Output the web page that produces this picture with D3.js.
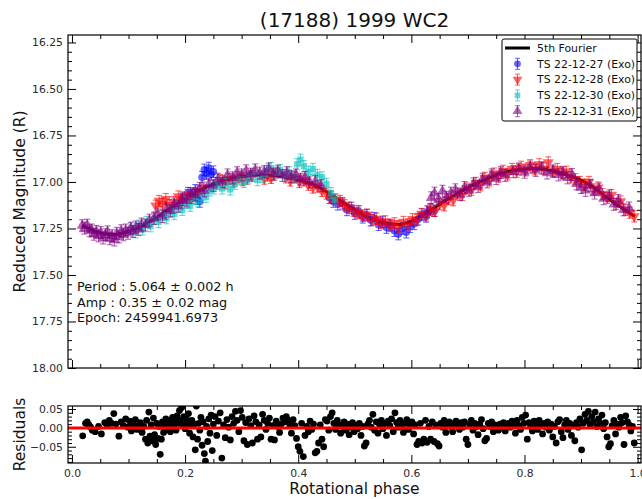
<!DOCTYPE html>
<html>
<head>
<meta charset="utf-8">
<script src="https://cdn.jsdelivr.net/npm/d3@7"></script>
<style>
  body { margin: 0; background: #fff; }
  svg { display: block; font-family: "DejaVu Sans", sans-serif; }
</style>
</head>
<body>
<svg id="chart" width="642" height="499"></svg>
<script>
// Lightcurve of (17188) 1999 WC2: folded photometry, 5th order Fourier fit, residuals.

const title = "(17188) 1999 WC2";
const seriesLabels = ["TS 22-12-27 (Exo)", "TS 22-12-28 (Exo)", "TS 22-12-30 (Exo)", "TS 22-12-31 (Exo)"];
const fitLabel = "5th Fourier";
const fitInfo = ["Period : 5.064 \u00b1 0.002 h", "Amp : 0.35 \u00b1 0.02 mag", "Epoch: 2459941.6973"];

const magTicks = [16.25, 16.5, 16.75, 17.0, 17.25, 17.5, 17.75, 18.0];
const residTicks = [-0.05, 0, 0.05];
const phaseTicks = [0, 0.2, 0.4, 0.6, 0.8, 1.0];

// error bar half-length per night (mag)
const errBars = [0.031, 0.030, 0.030, 0.032];

// fitted curve, [phase, mag]
const fitCurve = [
  [0.018,17.234],[0.03,17.25],[0.04,17.265],[0.05,17.273],[0.06,17.28],[0.07,17.282],[0.08,17.281],
  [0.09,17.275],[0.10,17.266],[0.11,17.255],[0.12,17.243],[0.13,17.227],[0.14,17.21],[0.16,17.17],
  [0.18,17.13],[0.20,17.09],[0.22,17.055],[0.24,17.025],[0.26,17.0],[0.28,16.982],[0.30,16.97],
  [0.33,16.963],[0.36,16.965],[0.39,16.982],[0.42,17.007],[0.44,17.034],[0.46,17.072],[0.48,17.112],
  [0.50,17.15],[0.52,17.185],[0.54,17.21],[0.56,17.225],[0.58,17.228],[0.60,17.21],[0.62,17.178],
  [0.64,17.14],[0.66,17.10],[0.68,17.065],[0.70,17.03],[0.72,17.002],[0.74,16.975],[0.76,16.952],
  [0.78,16.938],[0.80,16.93],[0.82,16.927],[0.84,16.935],[0.86,16.948],[0.88,16.968],[0.90,16.99],
  [0.92,17.025],[0.94,17.07],[0.96,17.115],[0.98,17.155],[0.995,17.185]
];

// observations, [phase, mag]
const ts221227 = [
  [0.195,17.085],[0.205,17.060],[0.212,17.070],[0.218,17.045],[0.222,17.090],[0.226,17.105],
  [0.230,16.975],[0.234,16.935],[0.238,16.955],[0.242,16.925],[0.246,16.960],[0.250,16.945],
  [0.455,17.085],[0.462,17.105],[0.470,17.120],[0.478,17.115],[0.486,17.150],[0.494,17.140],
  [0.500,17.170],[0.507,17.158],[0.514,17.190],[0.521,17.178],[0.528,17.205],[0.535,17.195],
  [0.542,17.230],[0.549,17.215],[0.556,17.245],[0.563,17.232],[0.570,17.262],[0.577,17.280],
  [0.584,17.250],[0.591,17.270],[0.598,17.240],[0.605,17.225],[0.612,17.200],[0.619,17.175],
  [0.626,17.185],[0.633,17.150],[0.640,17.155]
];
const ts221228 = [
  [0.148,17.128],[0.154,17.102],[0.160,17.118],[0.166,17.092],[0.172,17.125],[0.180,17.108],
  [0.188,17.078],[0.196,17.098],[0.204,17.070],[0.212,17.085],[0.222,17.050],[0.232,17.030],
  [0.262,16.990],[0.270,17.005],[0.278,16.985],[0.286,16.998],[0.294,16.975],[0.302,16.990],
  [0.310,16.982],[0.318,16.968],[0.340,16.982],[0.346,16.965],[0.352,16.978],[0.358,16.960],
  [0.378,16.975],[0.386,16.992],[0.394,16.975],[0.402,17.000],[0.410,16.992],[0.418,17.015],
  [0.426,17.030],[0.434,17.025],[0.442,17.048],[0.450,17.062],[0.458,17.080],[0.466,17.095],
  [0.474,17.102],[0.482,17.125],[0.490,17.138],[0.498,17.155],[0.506,17.165],[0.514,17.182],
  [0.522,17.176],[0.530,17.205],[0.538,17.198],[0.546,17.222],[0.554,17.212],[0.562,17.235],
  [0.570,17.222],[0.578,17.240],[0.586,17.215],[0.594,17.228],[0.602,17.200],[0.610,17.205],
  [0.618,17.172],[0.626,17.180],[0.634,17.145],[0.642,17.155],[0.650,17.118],[0.658,17.125],
  [0.666,17.092],[0.674,17.098],[0.682,17.062],[0.690,17.070],[0.698,17.035],[0.706,17.042],
  [0.714,17.005],[0.722,17.018],[0.730,16.978],[0.738,16.992],[0.746,16.955],[0.754,16.972],
  [0.762,16.940],[0.770,16.960],[0.778,16.930],[0.786,16.945],[0.794,16.918],[0.802,16.938],
  [0.810,16.910],[0.818,16.932],[0.826,16.905],[0.834,16.928],[0.842,16.895],[0.850,16.945],
  [0.858,16.930],[0.866,16.955],[0.874,16.945],[0.882,16.975],[0.890,16.985],[0.898,17.000],
  [0.906,17.015],[0.914,17.000],[0.922,17.040],[0.930,17.030],[0.938,17.065],[0.946,17.085],
  [0.954,17.070],[0.962,17.118],[0.970,17.105],[0.978,17.150],[0.986,17.165],[0.994,17.185]
];
const ts221230 = [
  [0.105,17.250],[0.112,17.270],[0.118,17.235],[0.125,17.255],[0.132,17.215],[0.139,17.238],
  [0.146,17.198],[0.153,17.215],[0.160,17.178],[0.167,17.195],[0.174,17.160],[0.181,17.172],
  [0.188,17.135],[0.195,17.150],[0.202,17.112],[0.209,17.128],[0.216,17.090],[0.223,17.105],
  [0.230,17.068],[0.237,17.080],[0.244,17.045],[0.251,17.035],[0.258,17.010],[0.265,17.035],
  [0.272,17.012],[0.280,17.040],[0.288,17.010],[0.296,16.985],[0.304,17.000],[0.312,16.975],
  [0.320,16.960],[0.328,16.990],[0.336,16.972],[0.344,16.940],[0.352,16.925],[0.360,16.950],
  [0.368,16.935],[0.376,16.965],[0.384,16.948],[0.392,16.975],[0.398,16.905],[0.404,16.880],
  [0.410,16.915],[0.418,16.945],[0.426,16.930],[0.434,16.962],[0.442,16.975],[0.450,17.010],
  [0.458,17.060],[0.465,17.095]
];
const ts221231 = [
  [0.018,17.235],[0.022,17.248],[0.027,17.232],[0.031,17.262],[0.035,17.258],[0.039,17.281],
  [0.043,17.266],[0.047,17.290],[0.051,17.272],[0.055,17.301],[0.059,17.284],[0.063,17.268],
  [0.067,17.305],[0.071,17.289],[0.075,17.312],[0.079,17.276],[0.083,17.295],[0.087,17.262],
  [0.091,17.284],[0.095,17.258],[0.099,17.276],[0.104,17.248],[0.108,17.266],[0.113,17.242],
  [0.118,17.255],[0.123,17.226],[0.130,17.232],[0.137,17.205],[0.145,17.196],[0.152,17.172],
  [0.160,17.186],[0.167,17.146],[0.174,17.155],[0.181,17.118],[0.188,17.130],[0.195,17.095],
  [0.203,17.102],[0.210,17.062],[0.218,17.070],[0.226,17.035],[0.234,17.048],[0.242,17.012],
  [0.250,17.020],[0.258,16.985],[0.266,16.998],[0.275,16.962],[0.284,16.978],[0.292,16.950],
  [0.300,16.962],[0.308,16.940],[0.316,16.958],[0.324,16.935],[0.332,16.952],[0.340,16.945],
  [0.348,16.930],[0.356,16.958],[0.364,16.942],[0.372,16.965],[0.380,16.950],[0.388,16.972],
  [0.396,16.962],[0.404,16.985],[0.412,16.975],[0.420,17.000],[0.430,16.998],[0.440,17.020],
  [0.628,17.160],[0.635,17.085],[0.641,17.060],[0.648,17.095],[0.655,17.050],[0.662,17.082],
  [0.670,17.060],[0.678,17.042],[0.686,17.068],[0.694,17.030],[0.702,17.045],[0.710,17.010],
  [0.718,17.025],[0.726,16.985],[0.734,17.000],[0.742,16.962],[0.750,16.982],[0.758,16.950],
  [0.766,16.965],[0.780,16.945],[0.790,16.930],[0.800,16.948],[0.810,16.920],[0.820,16.938],
  [0.830,16.925],[0.840,16.952],[0.850,16.940],[0.860,16.962],[0.868,16.950],[0.876,16.978],
  [0.884,16.960],[0.892,17.010],[0.900,17.030],[0.908,17.045],[0.916,17.020],[0.924,17.060],
  [0.932,17.038],[0.940,17.090],[0.950,17.075],[0.958,17.120],[0.966,17.100],[0.975,17.150],
  [0.985,17.140]
];

// residuals of all nights, [phase, O-C]
const residuals = [
  [0.019,-0.021],[0.024,0.012],[0.027,0.016],[0.030,0.008],[0.033,0.002],[0.036,-0.006],[0.041,-0.010],
  [0.047,0.004],[0.052,-0.016],[0.058,0.014],[0.062,0.008],[0.066,0.020],[0.070,0.012],[0.074,0.038],
  [0.078,0.010],[0.083,-0.022],[0.087,0.016],[0.091,0.006],[0.095,0.024],[0.099,0.002],[0.102,0.018],
  [0.105,-0.008],[0.108,0.010],[0.112,0.022],[0.115,-0.004],[0.118,0.006],[0.121,0.014],[0.124,-0.012],
  [0.127,0.004],[0.130,-0.030],[0.132,0.020],[0.134,-0.040],[0.136,0.042],[0.138,-0.022],[0.140,0.008],
  [0.142,-0.034],[0.144,0.026],[0.146,-0.018],[0.148,-0.044],[0.150,0.012],[0.152,-0.028],[0.154,0.004],
  [0.156,-0.070],[0.158,-0.030],[0.160,0.016],[0.162,-0.012],[0.164,0.006],[0.166,0.024],[0.168,-0.004],
  [0.170,0.010],[0.172,0.020],[0.174,-0.010],[0.176,0.014],[0.178,0.028],[0.180,0.006],[0.182,0.018],
  [0.184,-0.006],[0.186,0.032],[0.188,0.012],[0.190,0.046],[0.192,0.020],[0.194,0.054],[0.196,0.008],
  [0.198,0.030],[0.200,-0.002],[0.202,0.024],[0.204,0.014],[0.206,0.038],[0.208,-0.014],[0.210,0.006],
  [0.212,0.020],[0.214,-0.024],[0.216,0.010],[0.218,-0.058],[0.220,0.058],[0.222,-0.030],[0.224,0.012],
  [0.226,-0.006],[0.228,0.028],[0.230,-0.046],[0.232,0.016],[0.234,-0.068],[0.236,-0.088],[0.238,0.004],
  [0.240,-0.036],[0.242,0.024],[0.244,-0.014],[0.246,0.034],[0.248,-0.060],[0.250,0.010],[0.253,0.030],
  [0.256,-0.020],[0.259,0.018],[0.262,0.040],[0.265,-0.080],[0.268,0.008],[0.271,-0.026],[0.274,0.022],
  [0.277,0.002],[0.280,-0.032],[0.283,0.030],[0.286,0.012],[0.289,0.044],[0.292,0.020],[0.295,-0.010],
  [0.298,0.046],[0.301,0.028],[0.304,-0.034],[0.307,0.014],[0.310,-0.044],[0.313,0.024],[0.316,0.006],
  [0.319,-0.040],[0.322,0.032],[0.325,0.016],[0.328,-0.030],[0.331,0.008],[0.334,-0.024],[0.337,0.036],
  [0.340,0.020],[0.343,-0.004],[0.346,0.012],[0.349,0.026],[0.352,-0.030],[0.355,0.006],[0.358,-0.032],
  [0.361,0.018],[0.364,0.004],[0.367,-0.012],[0.370,0.010],[0.373,0.026],[0.376,0.016],[0.379,0.030],
  [0.382,0.020],[0.385,0.008],[0.388,-0.014],[0.391,0.022],[0.394,0.006],[0.397,-0.028],[0.400,-0.050],
  [0.403,-0.062],[0.406,0.012],[0.409,-0.076],[0.412,-0.020],[0.415,0.004],[0.418,-0.010],[0.421,0.018],
  [0.424,-0.004],[0.427,0.010],[0.430,-0.066],[0.433,-0.062],[0.436,-0.040],[0.439,0.008],[0.442,-0.030],
  [0.445,-0.050],[0.448,0.022],[0.451,0.018],[0.454,-0.006],[0.457,0.030],[0.460,0.040],[0.463,0.012],
  [0.466,-0.004],[0.469,0.020],[0.472,0.008],[0.475,-0.014],[0.478,0.004],[0.481,0.016],[0.484,-0.006],
  [0.487,0.010],[0.490,-0.018],[0.493,0.002],[0.496,0.014],[0.499,-0.010],[0.502,0.006],[0.505,-0.002],
  [0.508,0.012],[0.511,-0.020],[0.514,0.004],[0.517,-0.048],[0.520,-0.040],[0.523,0.010],[0.526,0.020],
  [0.529,0.002],[0.532,0.036],[0.535,-0.006],[0.538,0.016],[0.541,-0.014],[0.544,0.008],[0.547,0.020],
  [0.550,-0.002],[0.553,0.012],[0.556,-0.020],[0.559,0.018],[0.562,0.006],[0.565,0.024],[0.568,-0.010],
  [0.571,0.040],[0.574,0.014],[0.577,0.002],[0.580,0.020],[0.583,0.008],[0.586,-0.012],[0.589,0.012],
  [0.592,0.022],[0.595,-0.004],[0.598,0.010],[0.601,0.016],[0.604,-0.016],[0.607,0.008],[0.610,-0.044],
  [0.613,-0.036],[0.616,0.012],[0.619,-0.040],[0.622,-0.030],[0.625,0.020],[0.628,-0.038],[0.631,0.004],
  [0.634,-0.030],[0.637,0.016],[0.640,-0.036],[0.643,0.008],[0.646,-0.042],[0.649,-0.048],[0.652,0.012],
  [0.655,0.002],[0.658,0.020],[0.661,-0.012],[0.664,0.010],[0.667,0.016],[0.670,0.004],[0.673,-0.010],
  [0.676,0.012],[0.679,0.018],[0.682,0.006],[0.685,-0.004],[0.688,0.014],[0.691,0.002],[0.694,0.016],
  [0.697,-0.030],[0.700,-0.044],[0.703,0.008],[0.706,0.020],[0.709,-0.006],[0.712,0.012],[0.715,0.004],
  [0.718,-0.018],[0.721,0.010],[0.724,0.022],[0.727,-0.002],[0.730,-0.034],[0.733,-0.028],[0.736,0.012],
  [0.739,0.004],[0.742,0.016],[0.745,-0.010],[0.748,0.008],[0.751,0.002],[0.754,-0.006],[0.757,0.010],
  [0.760,0.004],[0.763,0.014],[0.766,-0.008],[0.769,0.006],[0.772,0.012],[0.775,0.002],[0.778,0.018],
  [0.781,0.008],[0.784,-0.014],[0.787,0.020],[0.790,0.006],[0.793,-0.004],[0.796,0.028],[0.799,0.012],
  [0.802,0.034],[0.805,-0.030],[0.808,0.014],[0.811,0.004],[0.814,-0.008],[0.817,0.018],[0.820,0.008],
  [0.823,-0.004],[0.826,0.020],[0.829,0.006],[0.832,-0.016],[0.835,0.012],[0.838,0.002],[0.841,0.016],
  [0.844,-0.006],[0.847,0.010],[0.850,-0.024],[0.853,0.004],[0.856,-0.040],[0.859,0.016],[0.862,0.022],
  [0.865,-0.010],[0.868,-0.026],[0.871,0.008],[0.874,0.020],[0.877,-0.004],[0.880,0.012],[0.883,-0.020],
  [0.886,0.006],[0.889,-0.034],[0.892,0.014],[0.895,0.002],[0.898,0.024],[0.901,-0.058],[0.904,0.012],
  [0.907,0.036],[0.910,0.020],[0.913,0.044],[0.916,0.008],[0.919,0.030],[0.922,0.016],[0.925,0.042],
  [0.928,0.004],[0.931,0.024],[0.934,0.012],[0.937,0.034],[0.940,-0.002],[0.943,0.014],[0.946,-0.024],
  [0.949,-0.050],[0.952,-0.042],[0.955,0.006],[0.958,0.020],[0.961,-0.016],[0.964,0.010],[0.967,0.002],
  [0.970,0.028],[0.973,0.014],[0.976,-0.044],[0.979,0.032],[0.982,0.016],[0.985,0.008],[0.988,-0.008],
  [0.991,0.004],[0.994,-0.040]
];

const observations = [ts221227, ts221228, ts221230, ts221231];

// marker styles per night (matplotlib colours, alpha ~0.6)
const markerStyles = [
  { color: "#0000ff", type: d3.symbolCircle,   size: 46, rotate: 0 },
  { color: "#ff0000", type: d3.symbolTriangle, size: 52, rotate: 180 },
  { color: "#00bfbf", type: d3.symbolSquare,   size: 40, rotate: 0 },
  { color: "#800080", type: d3.symbolTriangle, size: 52, rotate: 0 }
];
const alpha = 0.6;

const svg = d3.select("#chart");
const main = { left: 68, right: 641, top: 35, bottom: 368 };
const resid = { left: 68, right: 641, top: 406, bottom: 463 };

const x = d3.scaleLinear().domain([-0.007, 1.006]).range([main.left, main.right]);
const y = d3.scaleLinear().domain([16.21, 18.0]).range([main.top, main.bottom]);
const yr = d3.scaleLinear().domain([-0.093, 0.058]).range([resid.bottom, resid.top]);

svg.append("rect").attr("width", 642).attr("height", 499).attr("fill", "#fff");

const defs = svg.append("defs");
defs.append("clipPath").attr("id", "clipMain").append("rect")
  .attr("x", main.left).attr("y", main.top)
  .attr("width", main.right - main.left).attr("height", main.bottom - main.top);
defs.append("clipPath").attr("id", "clipRes").append("rect")
  .attr("x", resid.left).attr("y", resid.top)
  .attr("width", resid.right - resid.left).attr("height", resid.bottom - resid.top);

// -- ticks (inward, on all four sides) --

const phaseMinor = d3.range(0, 1.001, 0.05).filter(v => Math.abs(v * 5 - Math.round(v * 5)) > 1e-6);
const magMinor = d3.range(16.25, 18.0, 0.05).filter(v => Math.abs(v * 4 - Math.round(v * 4)) > 1e-6);
const residMinor = d3.range(-0.09, 0.058, 0.01).filter(v => Math.abs(v * 20 - Math.round(v * 20)) > 1e-6);

const MAJ = 8, MIN = 4;

function axisGroup(axis, tx, ty) {
  const g = svg.append("g").attr("transform", `translate(${tx},${ty})`).call(axis);
  g.select(".domain").remove();
  g.selectAll(".tick line").attr("stroke", "#000").attr("stroke-width", 1);
  g.selectAll(".tick text")
    .attr("fill", "#2a2a2a")
    .attr("font-size", 10.8)
    .attr("font-family", "DejaVu Sans, sans-serif");
  return g;
}

function frameTicks(box, ys, yMaj, yMin, yFmt, xFmt) {
  axisGroup(d3.axisLeft(ys).tickValues(yMaj).tickSize(-MAJ).tickPadding(5).tickFormat(yFmt), box.left, 0);
  axisGroup(d3.axisLeft(ys).tickValues(yMin).tickSize(-MIN).tickFormat(""), box.left, 0);
  axisGroup(d3.axisRight(ys).tickValues(yMaj).tickSize(-MAJ).tickFormat(""), box.right, 0);
  axisGroup(d3.axisRight(ys).tickValues(yMin).tickSize(-MIN).tickFormat(""), box.right, 0);
  axisGroup(d3.axisBottom(x).tickValues(phaseTicks).tickSize(-MAJ).tickPadding(6).tickFormat(xFmt), 0, box.bottom);
  axisGroup(d3.axisBottom(x).tickValues(phaseMinor).tickSize(-MIN).tickFormat(""), 0, box.bottom);
  axisGroup(d3.axisTop(x).tickValues(phaseTicks).tickSize(-MAJ).tickFormat(""), 0, box.top);
  axisGroup(d3.axisTop(x).tickValues(phaseMinor).tickSize(-MIN).tickFormat(""), 0, box.top);
}

frameTicks(main, y, magTicks, magMinor, d3.format(".2f"), () => "");
frameTicks(resid, yr, residTicks, residMinor, d3.format(".2f"), d3.format(".1f"));

// -- main panel: fit curve then error-bar points --

const plot = svg.append("g").attr("clip-path", "url(#clipMain)");

plot.append("path")
  .datum(fitCurve)
  .attr("fill", "none")
  .attr("stroke", "#000")
  .attr("stroke-width", 3)
  .attr("d", d3.line().x(d => x(d[0])).y(d => y(d[1])).curve(d3.curveMonotoneX));

function drawSeries(data, err, st) {
  const g = plot.append("g");
  const sym = d3.symbol().type(st.type).size(st.size);
  const pts = g.selectAll("g.pt").data(data).join("g").attr("class", "pt");
  pts.append("line")
    .attr("x1", d => x(d[0])).attr("x2", d => x(d[0]))
    .attr("y1", d => y(d[1] - err)).attr("y2", d => y(d[1] + err))
    .attr("stroke", st.color).attr("stroke-opacity", alpha).attr("stroke-width", 1.1);
  [-err, err].forEach(e => {
    pts.append("line")
      .attr("x1", d => x(d[0]) - 3).attr("x2", d => x(d[0]) + 3)
      .attr("y1", d => y(d[1] + e)).attr("y2", d => y(d[1] + e))
      .attr("stroke", st.color).attr("stroke-opacity", alpha).attr("stroke-width", 1.1);
  });
  pts.append("path")
    .attr("d", sym)
    .attr("transform", d => `translate(${x(d[0])},${y(d[1])}) rotate(${st.rotate})`)
    .attr("fill", st.color).attr("fill-opacity", alpha);
}

observations.forEach((obs, i) => drawSeries(obs, errBars[i], markerStyles[i]));

// fit parameters text
svg.append("g").selectAll("text").data(fitInfo).join("text")
  .attr("x", 77)
  .attr("y", (d, i) => 291 + i * 15.5)
  .attr("font-size", 12.8)
  .attr("fill", "#111")
  .text(d => d);

// -- residual panel --

const rplot = svg.append("g").attr("clip-path", "url(#clipRes)");
rplot.selectAll("circle").data(residuals).join("circle")
  .attr("cx", d => x(d[0])).attr("cy", d => yr(d[1]))
  .attr("r", 3.4).attr("fill", "#000");
rplot.append("line")
  .attr("x1", resid.left).attr("x2", resid.right)
  .attr("y1", yr(0)).attr("y2", yr(0))
  .attr("stroke", "#ff0000").attr("stroke-width", 3);

// frames
[main, resid].forEach(b => {
  svg.append("rect")
    .attr("x", b.left).attr("y", b.top)
    .attr("width", b.right - b.left).attr("height", b.bottom - b.top)
    .attr("fill", "none").attr("stroke", "#000").attr("stroke-width", 1.2);
});

// -- legend --

const leg = svg.append("g").attr("transform", "translate(502,39)");
leg.append("rect").attr("width", 135).attr("height", 82).attr("rx", 2)
  .attr("fill", "#fff").attr("stroke", "#000").attr("stroke-width", 1);
const rowY = i => 9 + i * 15.8;
leg.append("line").attr("x1", 3).attr("x2", 28).attr("y1", rowY(0)).attr("y2", rowY(0))
  .attr("stroke", "#000").attr("stroke-width", 3);
leg.append("text").attr("x", 35).attr("y", rowY(0)).attr("dy", "0.35em")
  .attr("font-size", 10.9).attr("fill", "#111").text(fitLabel);
seriesLabels.forEach((lab, i) => {
  const st = markerStyles[i];
  const cy = rowY(i + 1), cx = 15.5;
  const g = leg.append("g");
  g.append("line").attr("x1", cx).attr("x2", cx).attr("y1", cy - 5.5).attr("y2", cy + 5.5)
    .attr("stroke", st.color).attr("stroke-opacity", alpha);
  [-5.5, 5.5].forEach(o => g.append("line").attr("x1", cx - 2.5).attr("x2", cx + 2.5)
    .attr("y1", cy + o).attr("y2", cy + o).attr("stroke", st.color).attr("stroke-opacity", alpha));
  g.append("path").attr("d", d3.symbol().type(st.type).size(st.size * 0.8))
    .attr("transform", `translate(${cx},${cy}) rotate(${st.rotate})`)
    .attr("fill", st.color).attr("fill-opacity", alpha);
  leg.append("text").attr("x", 35).attr("y", cy).attr("dy", "0.35em")
    .attr("font-size", 10.9).attr("fill", "#111").text(lab);
});

// -- titles --

svg.append("text").attr("x", (main.left + main.right) / 2).attr("y", 27)
  .attr("text-anchor", "middle").attr("font-size", 20).attr("fill", "#111").text(title);
svg.append("text").attr("transform", `translate(20,${(main.top + main.bottom) / 2}) rotate(-90)`)
  .attr("text-anchor", "middle").attr("dy", "0.35em").attr("font-size", 15.5).attr("fill", "#111")
  .text("Reduced Magnitude (R)");
svg.append("text").attr("transform", `translate(20,${(resid.top + resid.bottom) / 2}) rotate(-90)`)
  .attr("text-anchor", "middle").attr("dy", "0.35em").attr("font-size", 15.5).attr("fill", "#111")
  .text("Residuals");
svg.append("text").attr("x", (main.left + main.right) / 2).attr("y", 494)
  .attr("text-anchor", "middle").attr("font-size", 15.5).attr("fill", "#111")
  .text("Rotational phase");
</script>
</body>
</html>
